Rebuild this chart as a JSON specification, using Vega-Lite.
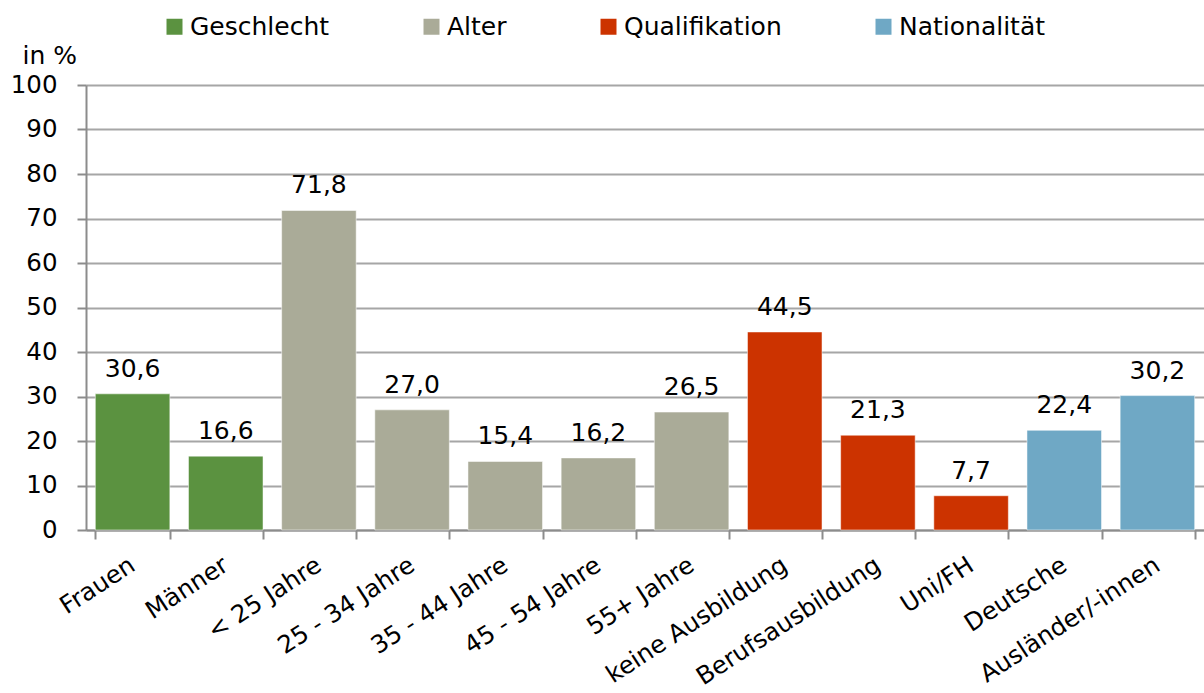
{
  "$schema": "https://vega.github.io/schema/vega-lite/v6.json",
  "autosize": {"type": "none"},
  "width": 1118,
  "height": 445,
  "padding": {"left": 86, "top": 85, "right": 0, "bottom": 163},
  "background": "white",
  "config": {
    "locale": {"number": {"decimal": ",", "thousands": ".", "grouping": [3], "currency": ["", " €"]}},
    "font": "DejaVu Sans",
    "view": {"stroke": null}
  },
  "data": {
    "values": [
      {"kategorie": "Frauen", "gruppe": "Geschlecht", "wert": 30.6},
      {"kategorie": "Männer", "gruppe": "Geschlecht", "wert": 16.6},
      {"kategorie": "< 25 Jahre", "gruppe": "Alter", "wert": 71.8},
      {"kategorie": "25 - 34 Jahre", "gruppe": "Alter", "wert": 27.0},
      {"kategorie": "35 - 44 Jahre", "gruppe": "Alter", "wert": 15.4},
      {"kategorie": "45 - 54 Jahre", "gruppe": "Alter", "wert": 16.2},
      {"kategorie": "55+ Jahre", "gruppe": "Alter", "wert": 26.5},
      {"kategorie": "keine Ausbildung", "gruppe": "Qualifikation", "wert": 44.5},
      {"kategorie": "Berufsausbildung", "gruppe": "Qualifikation", "wert": 21.3},
      {"kategorie": "Uni/FH", "gruppe": "Qualifikation", "wert": 7.7},
      {"kategorie": "Deutsche", "gruppe": "Nationalität", "wert": 22.4},
      {"kategorie": "Ausländer/-innen", "gruppe": "Nationalität", "wert": 30.2}
    ]
  },
  "encoding": {
    "x": {
      "field": "kategorie",
      "type": "nominal",
      "sort": null,
      "scale": {"paddingInner": 0.2, "paddingOuter": 0.1},
      "axis": {
        "title": null,
        "labelAngle": -33,
        "labelAlign": "right",
        "labelBaseline": "middle",
        "labelFontSize": 24.5,
        "labelColor": "#000000",
        "labelPadding": 24,
        "labelLimit": 0,
        "labelOverlap": false,
        "tickBand": "extent",
        "tickSize": 9,
        "tickColor": "#8c8c8c",
        "tickWidth": 2,
        "domainColor": "#8c8c8c",
        "domainWidth": 2,
        "grid": false
      }
    },
    "y": {
      "field": "wert",
      "type": "quantitative",
      "scale": {"domain": [0, 100]},
      "axis": {
        "values": [0, 10, 20, 30, 40, 50, 60, 70, 80, 90, 100],
        "title": "in %",
        "titleAngle": 0,
        "titleX": -64,
        "titleY": -22,
        "titleAlign": "left",
        "titleBaseline": "alphabetic",
        "titleFontSize": 25,
        "titleFontWeight": "normal",
        "titleColor": "#000000",
        "labelFontSize": 24.5,
        "labelColor": "#000000",
        "labelPadding": 20,
        "tickSize": 9,
        "tickColor": "#8c8c8c",
        "tickWidth": 2,
        "domainColor": "#8c8c8c",
        "domainWidth": 2,
        "grid": true,
        "gridColor": "#a6a6a6",
        "gridWidth": 2
      }
    }
  },
  "layer": [
    {
      "mark": {"type": "bar", "stroke": "#ffffff", "strokeWidth": 1, "strokeOpacity": 0.5},
      "encoding": {
        "color": {
          "field": "gruppe",
          "type": "nominal",
          "scale": {
            "domain": ["Geschlecht", "Alter", "Qualifikation", "Nationalität"],
            "range": ["#5b9240", "#aaab98", "#cc3300", "#6fa8c5"]
          },
          "legend": {
            "title": null,
            "orient": "none",
            "direction": "horizontal",
            "legendX": 76,
            "legendY": -71,
            "symbolType": "square",
            "symbolSize": 256,
            "symbolStrokeWidth": 0,
            "symbolOpacity": 1,
            "labelFontSize": 25,
            "labelColor": "#000000",
            "labelOffset": 3,
            "columnPadding": 89
          }
        }
      }
    },
    {
      "mark": {"type": "text", "baseline": "bottom", "dy": -12, "fontSize": 25, "color": "#000000"},
      "encoding": {
        "text": {"field": "wert", "type": "quantitative", "format": ".1f"}
      }
    }
  ]
}
